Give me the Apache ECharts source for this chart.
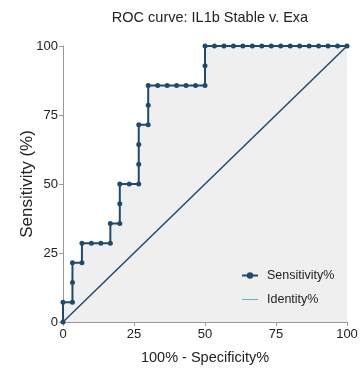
<!DOCTYPE html>
<html>
<head>
<meta charset="utf-8">
<script src="https://cdn.jsdelivr.net/npm/echarts@6/dist/echarts.min.js"></script>
<style>
  html, body { margin: 0; padding: 0; background: #fff; }
  #chart { width: 361px; height: 370px; }
</style>
</head>
<body>
<div id="chart"></div>
<script>
// ============================
// Datos
// ============================
var fprValues = [0, 0, 3.33, 3.33, 3.33, 6.67, 6.67, 10, 13.33, 16.67, 16.67, 20, 20, 20, 23.33, 26.67,
    26.67, 26.67, 26.67, 30, 30, 30, 33.33, 36.67, 40, 43.33, 46.67, 50, 50, 50,
    53.33, 56.67, 60, 63.33, 66.67, 70, 73.33, 76.67, 80, 83.33, 86.67, 90, 93.33, 96.67, 100];
var tprValues = [0, 7.14, 7.14, 14.29, 21.43, 21.43, 28.57, 28.57, 28.57, 28.57, 35.71, 35.71, 42.86, 50, 50, 50,
    57.14, 64.29, 71.43, 71.43, 78.57, 85.71, 85.71, 85.71, 85.71, 85.71, 85.71, 85.71, 92.86, 100,
    100, 100, 100, 100, 100, 100, 100, 100, 100, 100, 100, 100, 100, 100, 100];
var identityX = [0, 100];
var identityY = [0, 100];
var axisTicks = [0, 25, 50, 75, 100];

var colorCurva = "#1f4a70";
var fuente = "Liberation Sans, Arial, sans-serif";

var chart = echarts.init(document.getElementById("chart"));
chart.setOption({
    animation: false,
    title: {
        text: "ROC curve: IL1b Stable v. Exa",
        left: 205, top: 5, textAlign: "center",
        textStyle: { fontFamily: fuente, fontSize: 14.5, fontWeight: "normal", color: "#222" }
    },
    grid: { left: 63, right: 14, top: 46, bottom: 46 },
    legend: {
        orient: "vertical",
        left: 236, top: 264,
        itemWidth: 16, itemHeight: 8, itemGap: 11,
        textStyle: { fontFamily: fuente, fontSize: 12.5, color: "#222", padding: [0, 0, 0, 4] },
        data: [
            { name: "Sensitivity%" },
            { name: "Identity%", itemStyle: { opacity: 0 }, lineStyle: { color: "#55bdbd", width: 1, opacity: 1 } }
        ]
    },
    xAxis: {
        type: "value", min: axisTicks[0], max: axisTicks[axisTicks.length - 1], interval: 25,
        name: "100% - Specificity%", nameLocation: "middle", nameGap: 28,
        nameTextStyle: { fontFamily: fuente, fontSize: 14.5, color: "#222" },
        axisLine: { lineStyle: { color: "#999", width: 1 } },
        axisTick: { show: true, length: 4, lineStyle: { color: "#999" } },
        axisLabel: { fontFamily: fuente, fontSize: 13, color: "#222", margin: 6 },
        splitLine: { show: false }
    },
    yAxis: {
        type: "value", min: axisTicks[0], max: axisTicks[axisTicks.length - 1], interval: 25,
        name: "Sensitivity (%)", nameLocation: "middle", nameGap: 27, nameMoveOverlap: false,
        nameTextStyle: { fontFamily: fuente, fontSize: 17, color: "#222" },
        axisLine: { show: true, lineStyle: { color: "#999", width: 1 } },
        axisTick: { show: true, length: 4, lineStyle: { color: "#999" } },
        axisLabel: { fontFamily: fuente, fontSize: 13, color: "#222", margin: 5 },
        splitLine: { show: false }
    },
    series: [
        {
            name: "Sensitivity%",
            type: "line",
            data: fprValues.map((x, i) => [x, tprValues[i]]),
            symbol: "circle",
            symbolSize: 5,
            itemStyle: { color: colorCurva },
            lineStyle: { color: colorCurva, width: 2 },
            areaStyle: { color: "#efefef", opacity: 1 },
            z: 2
        },
        {
            name: "Identity%",
            type: "line",
            data: identityX.map((x, i) => [x, identityY[i]]),
            symbol: "none",
            itemStyle: { color: "#55bdbd" },
            lineStyle: { color: colorCurva, width: 1.5 },
            z: 3
        }
    ]
});
</script>
</body>
</html>
